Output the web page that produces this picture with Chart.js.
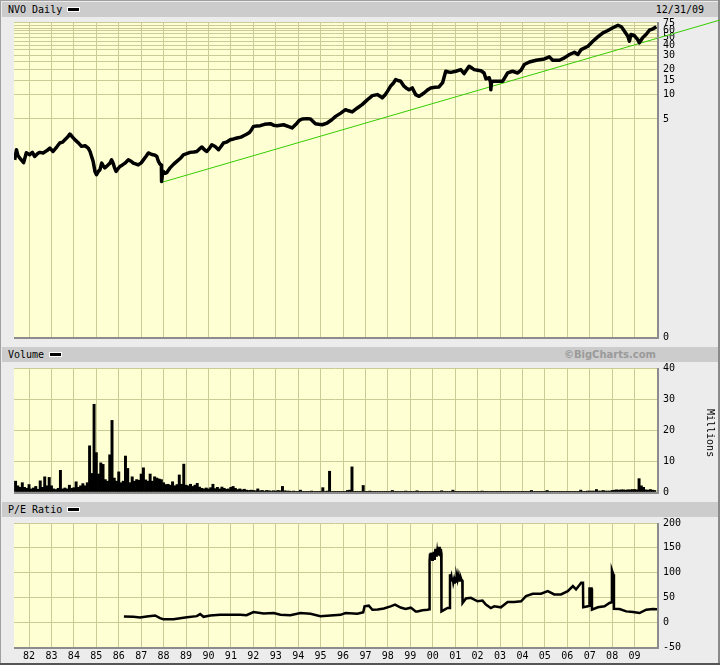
<!DOCTYPE html>
<html><head><meta charset="utf-8">
<script src="https://cdn.jsdelivr.net/npm/chart.js@4/dist/chart.umd.min.js"></script>
<style>
html,body{margin:0;padding:0;background:#ececec;}
#frame{position:relative;width:720px;height:665px;overflow:hidden;background:#ececec;}
.bar{position:absolute;left:2px;width:716px;height:15px;background:#cccccc;}
.t{position:absolute;top:1px;font:10px 'DejaVu Sans Mono',monospace;color:#000;line-height:13px;white-space:nowrap;}
.dash{display:inline-block;width:11px;height:3px;background:#000;border:1px solid #fff;vertical-align:middle;margin-left:5px;position:relative;top:-1px;}
.bc{position:absolute;top:1px;right:62px;font:bold 10px 'DejaVu Sans',sans-serif;color:#9a9a9a;line-height:13px;}
canvas{position:absolute;left:14px;}
.edge{position:absolute;}
#mil{position:absolute;left:688px;top:425px;width:44px;height:12px;font:10px 'DejaVu Sans Mono',monospace;transform:rotate(90deg);text-align:center;line-height:12px;}
</style></head>
<body>
<div id="frame">
  <div class="edge" style="left:0;top:0;width:720px;height:1px;background:#a0a0a0"></div>
  <div class="edge" style="left:0;top:0;width:1px;height:665px;background:#a0a0a0"></div>
  <div class="edge" style="right:0;top:0;width:2px;height:665px;background:#8a8a8a"></div>
  <div class="edge" style="left:0;bottom:0;width:720px;height:2px;background:#555"></div>

  <div class="bar" style="top:2px"><span class="t" style="left:6px">NVO Daily<span class="dash"></span></span><span class="t" style="right:14px">12/31/09</span></div>
  <div class="bar" style="top:347px"><span class="t" style="left:6px">Volume<span class="dash"></span></span><span class="bc">©BigCharts.com</span></div>
  <div class="bar" style="top:502px"><span class="t" style="left:6px">P/E Ratio<span class="dash"></span></span></div>

  <canvas id="cPrice" width="706" height="339" style="top:10px;width:706px;height:339px"></canvas>
  <canvas id="cVol" width="706" height="148" style="top:356px;width:706px;height:148px"></canvas>
  <canvas id="cPE" width="706" height="154" style="top:511px;width:706px;height:154px"></canvas>
  <div id="mil">Millions</div>
</div>
<script>
// ---------------- data ----------------
const yearTicks = [1982,1983,1984,1985,1986,1987,1988,1989,1990,1991,1992,1993,1994,1995,1996,1997,1998,1999,2000,2001,2002,2003,2004,2005,2006,2007,2008,2009];
const yearLabels = ['82','83','84','85','86','87','88','89','90','91','92','93','94','95','96','97','98','99','00','01','02','03','04','05','06','07','08','09'];

const priceGridTicks = [5,10,15,20,25,30,35,40,45,50,55,60,65,70,75];
const priceLabelTicks = [75,60,50,40,30,20,15,10,5];
const volTicks = [0,10,20,30,40];
const peTicks = [-50,0,50,100,150,200];

const priceYears = [1981.36,1981.44,1981.50,1981.58,1981.76,1981.88,1982.03,1982.15,1982.25,1982.40,1982.48,1982.63,1982.80,1982.93,1983.07,1983.25,1983.37,1983.50,1983.60,1983.72,1983.82,1983.92,1984.04,1984.20,1984.34,1984.50,1984.64,1984.72,1984.79,1984.86,1984.94,1985.01,1985.10,1985.16,1985.24,1985.30,1985.38,1985.50,1985.61,1985.68,1985.75,1985.82,1985.88,1985.96,1986.05,1986.15,1986.28,1986.43,1986.55,1986.65,1986.78,1986.87,1987.00,1987.10,1987.22,1987.32,1987.45,1987.54,1987.62,1987.70,1987.77,1987.84,1987.90,1987.91,1987.95,1987.99,1988.07,1988.14,1988.29,1988.45,1988.59,1988.75,1988.88,1989.03,1989.18,1989.35,1989.48,1989.60,1989.71,1989.82,1989.93,1990.05,1990.15,1990.30,1990.45,1990.56,1990.67,1990.80,1990.97,1991.12,1991.27,1991.45,1991.57,1991.70,1991.83,1991.92,1992.01,1992.16,1992.31,1992.50,1992.76,1992.90,1993.06,1993.35,1993.55,1993.73,1993.90,1994.05,1994.18,1994.40,1994.55,1994.77,1994.92,1995.07,1995.29,1995.50,1995.67,1995.90,1996.11,1996.25,1996.41,1996.64,1996.85,1997.01,1997.15,1997.31,1997.53,1997.65,1997.75,1997.88,1997.98,1998.12,1998.25,1998.35,1998.45,1998.57,1998.72,1998.85,1998.94,1999.09,1999.24,1999.39,1999.61,1999.80,1999.91,2000.10,2000.28,2000.44,2000.58,2000.70,2000.81,2001.03,2001.25,2001.40,2001.62,2001.75,2001.85,2002.00,2002.15,2002.29,2002.37,2002.52,2002.58,2002.59,2002.62,2002.67,2002.89,2003.12,2003.34,2003.56,2003.79,2003.94,2004.08,2004.31,2004.61,2004.98,2005.20,2005.35,2005.65,2005.87,2006.10,2006.32,2006.47,2006.62,2006.92,2007.14,2007.36,2007.59,2007.81,2008.03,2008.26,2008.41,2008.55,2008.70,2008.77,2008.84,2008.99,2009.14,2009.21,2009.36,2009.51,2009.66,2009.82,2009.97];
const priceValues = [1.58,2.10,1.80,1.67,1.46,1.93,1.82,1.95,1.74,1.90,1.95,1.92,2.05,2.20,2.00,2.30,2.54,2.60,2.79,3.00,3.27,3.05,2.79,2.55,2.31,2.35,2.20,2.00,1.74,1.51,1.14,1.04,1.15,1.19,1.44,1.35,1.26,1.35,1.44,1.58,1.44,1.25,1.14,1.22,1.31,1.36,1.44,1.58,1.52,1.44,1.40,1.37,1.45,1.58,1.75,1.92,1.85,1.82,1.80,1.74,1.51,1.40,1.37,0.86,1.05,1.14,1.08,1.10,1.26,1.40,1.51,1.65,1.82,1.88,1.95,1.97,2.00,2.15,2.27,2.10,2.00,2.20,2.42,2.30,2.10,2.30,2.54,2.60,2.79,2.85,2.92,3.00,3.12,3.25,3.42,3.70,4.06,4.10,4.14,4.30,4.38,4.20,4.14,4.25,4.05,3.88,4.30,4.80,5.00,5.05,5.00,4.38,4.30,4.25,4.46,4.90,5.38,5.90,6.50,6.30,6.10,6.82,7.50,8.22,8.90,9.65,9.94,9.50,9.05,9.90,10.9,12.6,13.8,15.2,14.8,14.5,12.6,11.8,11.4,12.0,9.94,9.47,10.4,11.5,12.0,12.2,12.35,13.9,19.2,18.8,18.6,19.2,20.1,18.0,22.1,21.0,20.1,19.8,19.5,18.3,15.5,16.0,14.0,11.4,14.0,14.5,14.5,14.5,18.3,19.2,18.3,19.8,23.2,24.9,26.2,27.2,28.8,26.2,26.2,28.0,30.8,32.8,30.8,35.4,38.9,44.8,50.7,56.8,60.6,65.4,70.3,67.3,59.4,51.6,44.8,54.1,52.6,47.0,42.8,49.3,54.1,61.1,63.5,67.3];

const trendYears = [1987.87, 2012.88];
const trendValues = [0.83, 82.5];

// volume, millions, one value per tenth of a year starting 1981.0
const volValues = [
 null,null,null,null,3.5,2.0,1.5,3.0,1.5,1.2,      // 1981
 2.4,1.0,1.3,1.8,0.9,3.6,1.5,4.9,2.0,4.7,          // 1982
 2.0,1.0,0.8,1.2,7.0,1.0,1.3,1.0,2.2,1.2,          // 1983
 1.4,3.3,1.5,2.0,2.7,2.0,3.0,14.9,6.0,28.3,        // 1984
 12.7,5.8,9.4,8.9,4.0,3.5,12.0,23.1,4.5,3.5,       // 1985
 6.5,3.0,3.5,11.6,7.6,3.0,4.9,3.5,4.0,3.8,         // 1986
 5.8,7.8,3.9,3.5,5.8,3.5,4.9,4.5,4.2,4.0,          // 1987
 3.0,2.4,2.5,2.2,3.3,2.0,2.4,5.5,2.5,9.0,          // 1988
 2.2,2.0,2.5,1.8,2.2,2.8,1.6,1.2,1.0,1.3,          // 1989
 1.0,1.4,2.5,1.1,1.5,1.0,1.6,1.2,0.9,1.0,          // 1990
 1.5,1.8,1.2,0.8,1.0,0.7,0.9,0.6,0.5,0.6,          // 1991
 0.5,0.4,1.0,0.4,0.5,0.3,0.5,0.4,0.3,0.4,          // 1992
 0.3,0.5,0.4,1.8,0.4,0.3,0.3,0.2,0.3,0.2,          // 1993
 0.2,0.6,0.2,0.2,0.2,0.2,0.3,0.2,0.2,0.2,          // 1994
 0.2,1.4,0.2,0.3,6.7,0.2,0.2,0.2,0.2,0.2,          // 1995
 0.2,0.2,0.5,0.6,8.1,0.2,0.2,0.2,0.2,2.1,          // 1996
 0.2,0.2,0.3,0.2,0.2,0.2,0.2,0.2,0.2,0.2,          // 1997
 0.2,0.2,0.5,0.2,0.2,0.2,0.2,0.2,0.3,0.2,          // 1998
 0.2,0.2,0.2,0.4,0.2,0.2,0.2,0.2,0.2,0.2,          // 1999
 0.2,0.2,0.2,0.2,0.4,0.2,0.2,0.2,0.2,0.6,          // 2000
 0.2,0.2,0.2,0.2,0.2,0.2,0.2,0.2,0.2,0.2,          // 2001
 0.2,0.2,0.3,0.2,0.2,0.2,0.2,0.2,0.2,0.2,          // 2002
 0.2,0.2,0.2,0.2,0.2,0.2,0.2,0.2,0.2,0.2,          // 2003
 0.2,0.2,0.2,0.2,0.5,0.2,0.2,0.2,0.2,0.2,          // 2004
 0.2,0.5,0.2,0.2,0.2,0.2,0.2,0.2,0.2,0.2,          // 2005
 0.2,0.2,0.2,0.2,0.2,0.2,0.6,0.2,0.2,0.3,          // 2006
 0.3,0.3,0.3,0.8,0.3,0.3,0.5,0.3,0.3,0.3,          // 2007
 0.5,0.6,0.7,0.6,0.7,0.7,0.6,0.7,0.7,0.8,          // 2008
 0.8,0.7,4.3,2.0,1.5,0.7,0.6,0.8,0.6,0.5           // 2009
];
const volYears = volValues.map((v, i) => 1981 + i / 10);

const peYears = [1986.23,1986.65,1986.95,1987.25,1987.62,1987.84,1987.99,1988.44,1988.74,1989.04,1989.48,1989.63,1989.78,1990.08,1990.52,1990.97,1991.42,1991.70,1992.01,1992.46,1992.91,1993.21,1993.65,1994.10,1994.55,1994.99,1995.44,1995.89,1996.11,1996.64,1996.86,1996.90,1996.96,1997.15,1997.31,1997.55,1997.82,1998.12,1998.32,1998.57,1998.79,1999.02,1999.09,1999.24,1999.32,1999.54,1999.77,1999.85,
 1999.86,1999.88,1999.90,1999.92,1999.94,1999.96,1999.98,2000.00,2000.02,2000.04,2000.06,2000.08,2000.10,2000.12,2000.14,2000.16,2000.18,2000.20,2000.22,2000.24,2000.26,2000.28,2000.30,2000.32,2000.34,2000.36,2000.38,
 2000.39,2000.51,2000.66,2000.76,
 2000.77,2000.80,2000.83,2000.86,2000.89,2000.92,2000.95,2000.98,2001.01,2001.04,2001.07,2001.10,2001.13,2001.16,2001.19,2001.22,2001.25,2001.28,2001.32,
 2001.33,2001.48,2001.70,2002.00,2002.22,2002.37,2002.59,2002.74,2003.04,2003.34,2003.64,2003.94,2004.16,2004.46,2004.83,2005.13,2005.42,2005.72,2006.02,2006.25,2006.39,2006.62,2006.70,2006.71,2006.92,2006.98,2006.99,2007.08,2007.10,2007.36,2007.66,2007.88,2007.98,2007.99,2008.05,2008.08,2008.33,2008.63,2008.93,2009.22,2009.52,2009.82,2010.00];
const peValues = [11.5,10.8,9.4,11.5,13.5,8.1,6.1,6.1,8.1,10.2,12.2,16.3,10.8,13.5,14.9,14.9,14.9,14.0,20.4,17.7,18.4,14.9,14.2,18.4,17.0,12.2,13.6,14.9,18.4,17.0,19.7,20.0,31.9,33.3,25.1,25.5,27.8,31.9,35.3,29.5,26.5,29.2,27.0,21.8,21.8,23.9,25.2,26.0,
 124,138,126,140,128,135,126,140,130,142,128,138,131,148,133,145,132,141,134,150,136,152,137,146,135,148,140,
 21.8,25.0,28.6,28.6,
 96.7,88,93,84,90,80,86,78,85,82,92,86,95,88,91,84,90,86,84,
 38.8,47.8,49.1,42.2,43.5,35.4,28.6,32.0,30.0,40.8,40.8,42.2,52.5,57.3,57.3,62.7,55.9,55.9,62.7,72.9,66.1,79.7,79.7,30.0,32.0,33.0,68.1,68.1,25.2,30.0,32.0,38.8,40.0,104.9,96.7,27.0,26.5,21.8,20.5,18.4,25.2,26.5,25.9];

// ---------------- chart setup ----------------
const X_MIN = 1981.33, X_MAX = 2010.0;
const PRICE_MIN = 0.0107, PRICE_MAX = 77;
const PLOT_BG = '#ffffd4', GRID = '#cbcb98';
Chart.defaults.font.family = "'DejaVu Sans Mono', monospace";
Chart.defaults.font.size = 10;
Chart.defaults.color = '#000';

const framePlugin = {
  id: 'frame',
  beforeDraw(c) {
    const a = c.chartArea, x = c.ctx;
    x.save(); x.fillStyle = PLOT_BG; x.fillRect(a.left, a.top, a.right - a.left, a.bottom - a.top); x.restore();
  },
  afterDraw(c) {
    const a = c.chartArea, x = c.ctx;
    x.save(); x.fillStyle = '#8c8c8c';
    x.fillRect(a.right, a.top, 2, a.bottom - a.top + 2);
    x.fillRect(a.left, a.bottom, a.right - a.left + 2, 2);
    x.restore();
  }
};

function xAxis(showLabels) {
  return {
    type: 'linear', min: X_MIN, max: X_MAX, offset: false,
    afterBuildTicks: s => { s.ticks = yearTicks.map(v => ({ value: v })); },
    afterFit: s => { s.height = showLabels ? 18 : 0; },
    grid: { color: GRID, lineWidth: 1, drawTicks: false, offset: false },
    border: { display: false },
    ticks: { display: showLabels, autoSkip: false, maxRotation: 0, minRotation: 0, padding: 3,
      callback: v => { const i = yearTicks.indexOf(v); return i >= 0 ? yearLabels[i] : ''; } }
  };
}
function yAxis(extra, tickVals, labelFn) {
  return Object.assign({
    position: 'right',
    afterBuildTicks: s => { s.ticks = tickVals.map(v => ({ value: v })); },
    afterFit: s => { s.width = 63; },
    grid: { color: GRID, lineWidth: 1, drawTicks: false },
    border: { display: false },
    ticks: { padding: 6, autoSkip: false, callback: labelFn }
  }, extra);
}
const common = {
  responsive: false, animation: false, devicePixelRatio: 1,
  plugins: { legend: { display: false }, tooltip: { enabled: false } },
  elements: { point: { radius: 0 } },
  layout: { padding: 0 }
};

new Chart(document.getElementById('cPrice'), {
  type: 'line',
  data: { datasets: [
    { data: priceYears.map((x, i) => ({ x, y: priceValues[i] })), borderColor: '#000', borderWidth: 3.5, pointRadius: 0, tension: 0, borderJoinStyle: 'round' },
    { data: trendYears.map((x, i) => ({ x, y: trendValues[i] })), borderColor: '#33cc00', borderWidth: 1, pointRadius: 0, clip: false }
  ]},
  options: Object.assign({}, common, {
    scales: {
      x: xAxis(false),
      y: yAxis({ type: 'logarithmic', min: PRICE_MIN, max: PRICE_MAX }, [PRICE_MIN].concat(priceGridTicks),
        v => v === PRICE_MIN ? '0' : (priceLabelTicks.includes(v) ? String(v) : ''))
    }
  }),
  plugins: [framePlugin]
});

new Chart(document.getElementById('cVol'), {
  type: 'bar',
  data: { datasets: [
    { data: volYears.map((x, i) => ({ x, y: volValues[i] })), backgroundColor: '#000', borderWidth: 0, barThickness: 2.3 }
  ]},
  options: Object.assign({}, common, {
    scales: {
      x: xAxis(false),
      y: yAxis({ type: 'linear', min: 0, max: 40 }, volTicks, v => String(v))
    }
  }),
  plugins: [framePlugin]
});

new Chart(document.getElementById('cPE'), {
  type: 'line',
  data: { datasets: [
    { data: peYears.map((x, i) => ({ x, y: peValues[i] })), borderColor: '#000', borderWidth: 2.5, pointRadius: 0, tension: 0 }
  ]},
  options: Object.assign({}, common, {
    scales: {
      x: xAxis(true),
      y: yAxis({ type: 'linear', min: -50, max: 200 }, peTicks, v => String(v))
    }
  }),
  plugins: [framePlugin]
});
</script>
</body></html>
